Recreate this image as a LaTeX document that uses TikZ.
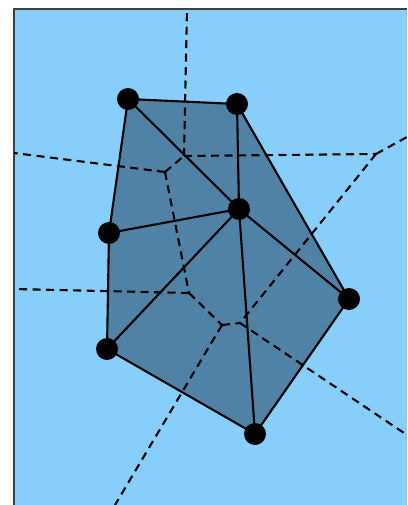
\documentclass[tikz,border=0pt]{standalone}
\begin{document}
\begin{tikzpicture}[x=1pt,y=-1pt,
  edge/.style={line width=2.1pt, line join=round},
  vor/.style={line width=2.1pt, dash pattern=on 8pt off 5.5pt},
  site/.style={circle, fill=black, inner sep=0pt, minimum size=22pt}]
\definecolor{bg}{RGB}{135,206,250}
\definecolor{hull}{RGB}{79,130,164}
\useasboundingbox (0,0) rectangle (407,505);
\fill[bg] (14,9) rectangle (407,505);
\draw[line width=1.4pt, black!75] (14,505) -- (14,9) -- (407,9);
% sites
\coordinate (pA) at (128,99);
\coordinate (pB) at (237,104);
\coordinate (pC) at (239,209);
\coordinate (pD) at (109,233);
\coordinate (pE) at (349,299);
\coordinate (pF) at (107,349);
\coordinate (pG) at (255,434);
% hull
\fill[hull] (pA) -- (pB) -- (pE) -- (pG) -- (pF) -- (pD) -- cycle;
% voronoi vertices
\coordinate (v1) at (165,172);
\coordinate (v2) at (184,156);
\coordinate (v3) at (376,154);
\coordinate (v4) at (189,293);
\coordinate (v5) at (222,325);
\coordinate (v6) at (240,323);
\coordinate (tTop) at (187,9);
\coordinate (tTR) at (407,137);
\coordinate (tL1) at (14,153);
\coordinate (tL2) at (14,289);
\coordinate (tBL) at (115,505);
\coordinate (tBR) at (407,435);
\draw[vor] (v2) -- (tTop);
\draw[vor] (v2) -- (v3);
\draw[vor] (v3) -- (tTR);
\draw[vor] (v3) -- (v6);
\draw[vor] (v1) -- (v2);
\draw[vor] (v1) -- (tL1);
\draw[vor] (v1) -- (v4);
\draw[vor] (v4) -- (tL2);
\draw[vor] (v4) -- (v5);
\draw[vor] (v5) -- (v6);
\draw[vor] (v5) -- (tBL);
\draw[vor] (v6) -- (tBR);
% triangulation
\draw[edge] (pA) -- (pB) -- (pE) -- (pG) -- (pF) -- (pD) -- cycle;
\draw[edge] (pA) -- (pC);
\draw[edge] (pB) -- (pC);
\draw[edge] (pD) -- (pC);
\draw[edge] (pE) -- (pC);
\draw[edge] (pF) -- (pC);
\draw[edge] (pG) -- (pC);
\foreach \p in {A,B,C,D,E,F,G} \node[site] (n\p) at (p\p) {};
\end{tikzpicture}
\end{document}
